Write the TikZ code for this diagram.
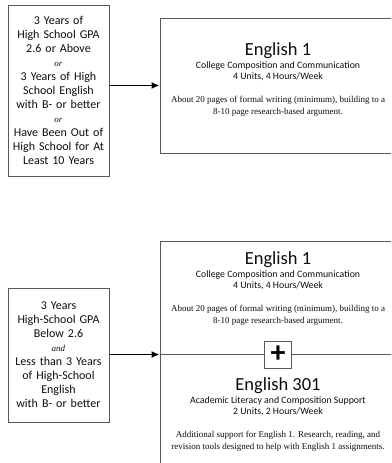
\documentclass[tikz,border=0pt]{standalone}
\usepackage{fontspec}
\setsansfont{Carlito}
\newfontfamily\descfont{Liberation Serif}
\usetikzlibrary{positioning,arrows.meta}
\definecolor{boxgray}{gray}{0.35}
\definecolor{inkcol}{gray}{0.05}
\newcommand{\orword}[1]{{\descfont\itshape\fontsize{9}{14}\selectfont #1}}

\tikzset{
	reqbox/.style={draw=boxgray,line width=1pt,minimum width=101pt,text width=99pt,align=center,inner sep=0pt,text=inkcol,font=\sffamily\fontsize{12}{14}\selectfont},
	frame/.style={draw=boxgray,line width=1pt,minimum width=236pt,inner sep=0pt},
	titletext/.style={inner sep=0pt,text=inkcol,font=\sffamily\fontsize{18.5}{20}\selectfont},
	subtext/.style={inner sep=0pt,align=center,text=inkcol,font=\sffamily\fontsize{9.8}{11}\selectfont},
	desctext/.style={inner sep=0pt,align=center,text=inkcol,font=\descfont\fontsize{9}{12}\selectfont},
	feed/.style={-{Latex[length=8pt,width=7pt]},line width=1.8pt},
	plusbox/.style={draw=boxgray,line width=1pt,fill=white,minimum size=27pt,inner sep=0pt,font=\sffamily\bfseries\fontsize{30}{30}\selectfont},
}

\begin{document}
\begin{tikzpicture}[x=1pt,y=-1pt]
	\useasboundingbox (0,0) rectangle (391,463);
	\clip (0,0) rectangle (391,463);

	% first route
	\node[reqbox,minimum height=171pt] (req1) at (58.5,90.5) {3 Years of\\High School GPA\\2.6 or Above\\\orword{or}\\3 Years of High\\School English\\with B- or better\\\orword{or}\\Have Been Out of\\High School for At\\Least 10 Years};
	\node[frame,minimum height=135pt] (eng1) at (278,85.5) {};
	\node[titletext,below=25pt of eng1.north] (eng1title) {English 1};
	\node[subtext,below=3pt of eng1title] (eng1sub) {College Composition and Communication\\4 Units, 4 Hours/Week};
	\node[desctext,below=15pt of eng1sub] (eng1desc) {About 20 pages of formal writing (minimum), building to a\\8-10 page research-based argument.};
	\draw[feed] (req1.east |- eng1.west) -- (eng1.west);

	% second route
	\node[reqbox,minimum height=134pt] (req2) at (58.5,355) {3 Years\\High-School GPA\\Below 2.6\\\orword{and}\\Less than 3 Years\\of High-School\\English\\with B- or better};
	\node[frame,minimum height=113pt] (eng1b) at (278,297.5) {};
	\node[frame,minimum height=131pt] (eng301) at (278,419.5) {};
	\node[titletext,below=11pt of eng1b.north] (eng1btitle) {English 1};
	\node[subtext,below=3pt of eng1btitle] (eng1bsub) {College Composition and Communication\\4 Units, 4 Hours/Week};
	\node[desctext,below=15pt of eng1bsub] (eng1bdesc) {About 20 pages of formal writing (minimum), building to a\\8-10 page research-based argument.};
	\node[plusbox] (plus) at (eng1b.south) {+};
	\node[titletext,below=24pt of eng301.north] (eng301title) {English 301};
	\node[subtext,below=3pt of eng301title] (eng301sub) {Academic Literacy and Composition Support\\2 Units, 2 Hours/Week};
	\node[desctext,below=15pt of eng301sub] (eng301desc) {Additional support for English 1. Research, reading, and\\revision tools designed to help with English 1 assignments.};
	\draw[feed] (req2.east |- eng1b.south west) -- (eng1b.south west);
\end{tikzpicture}
\end{document}
